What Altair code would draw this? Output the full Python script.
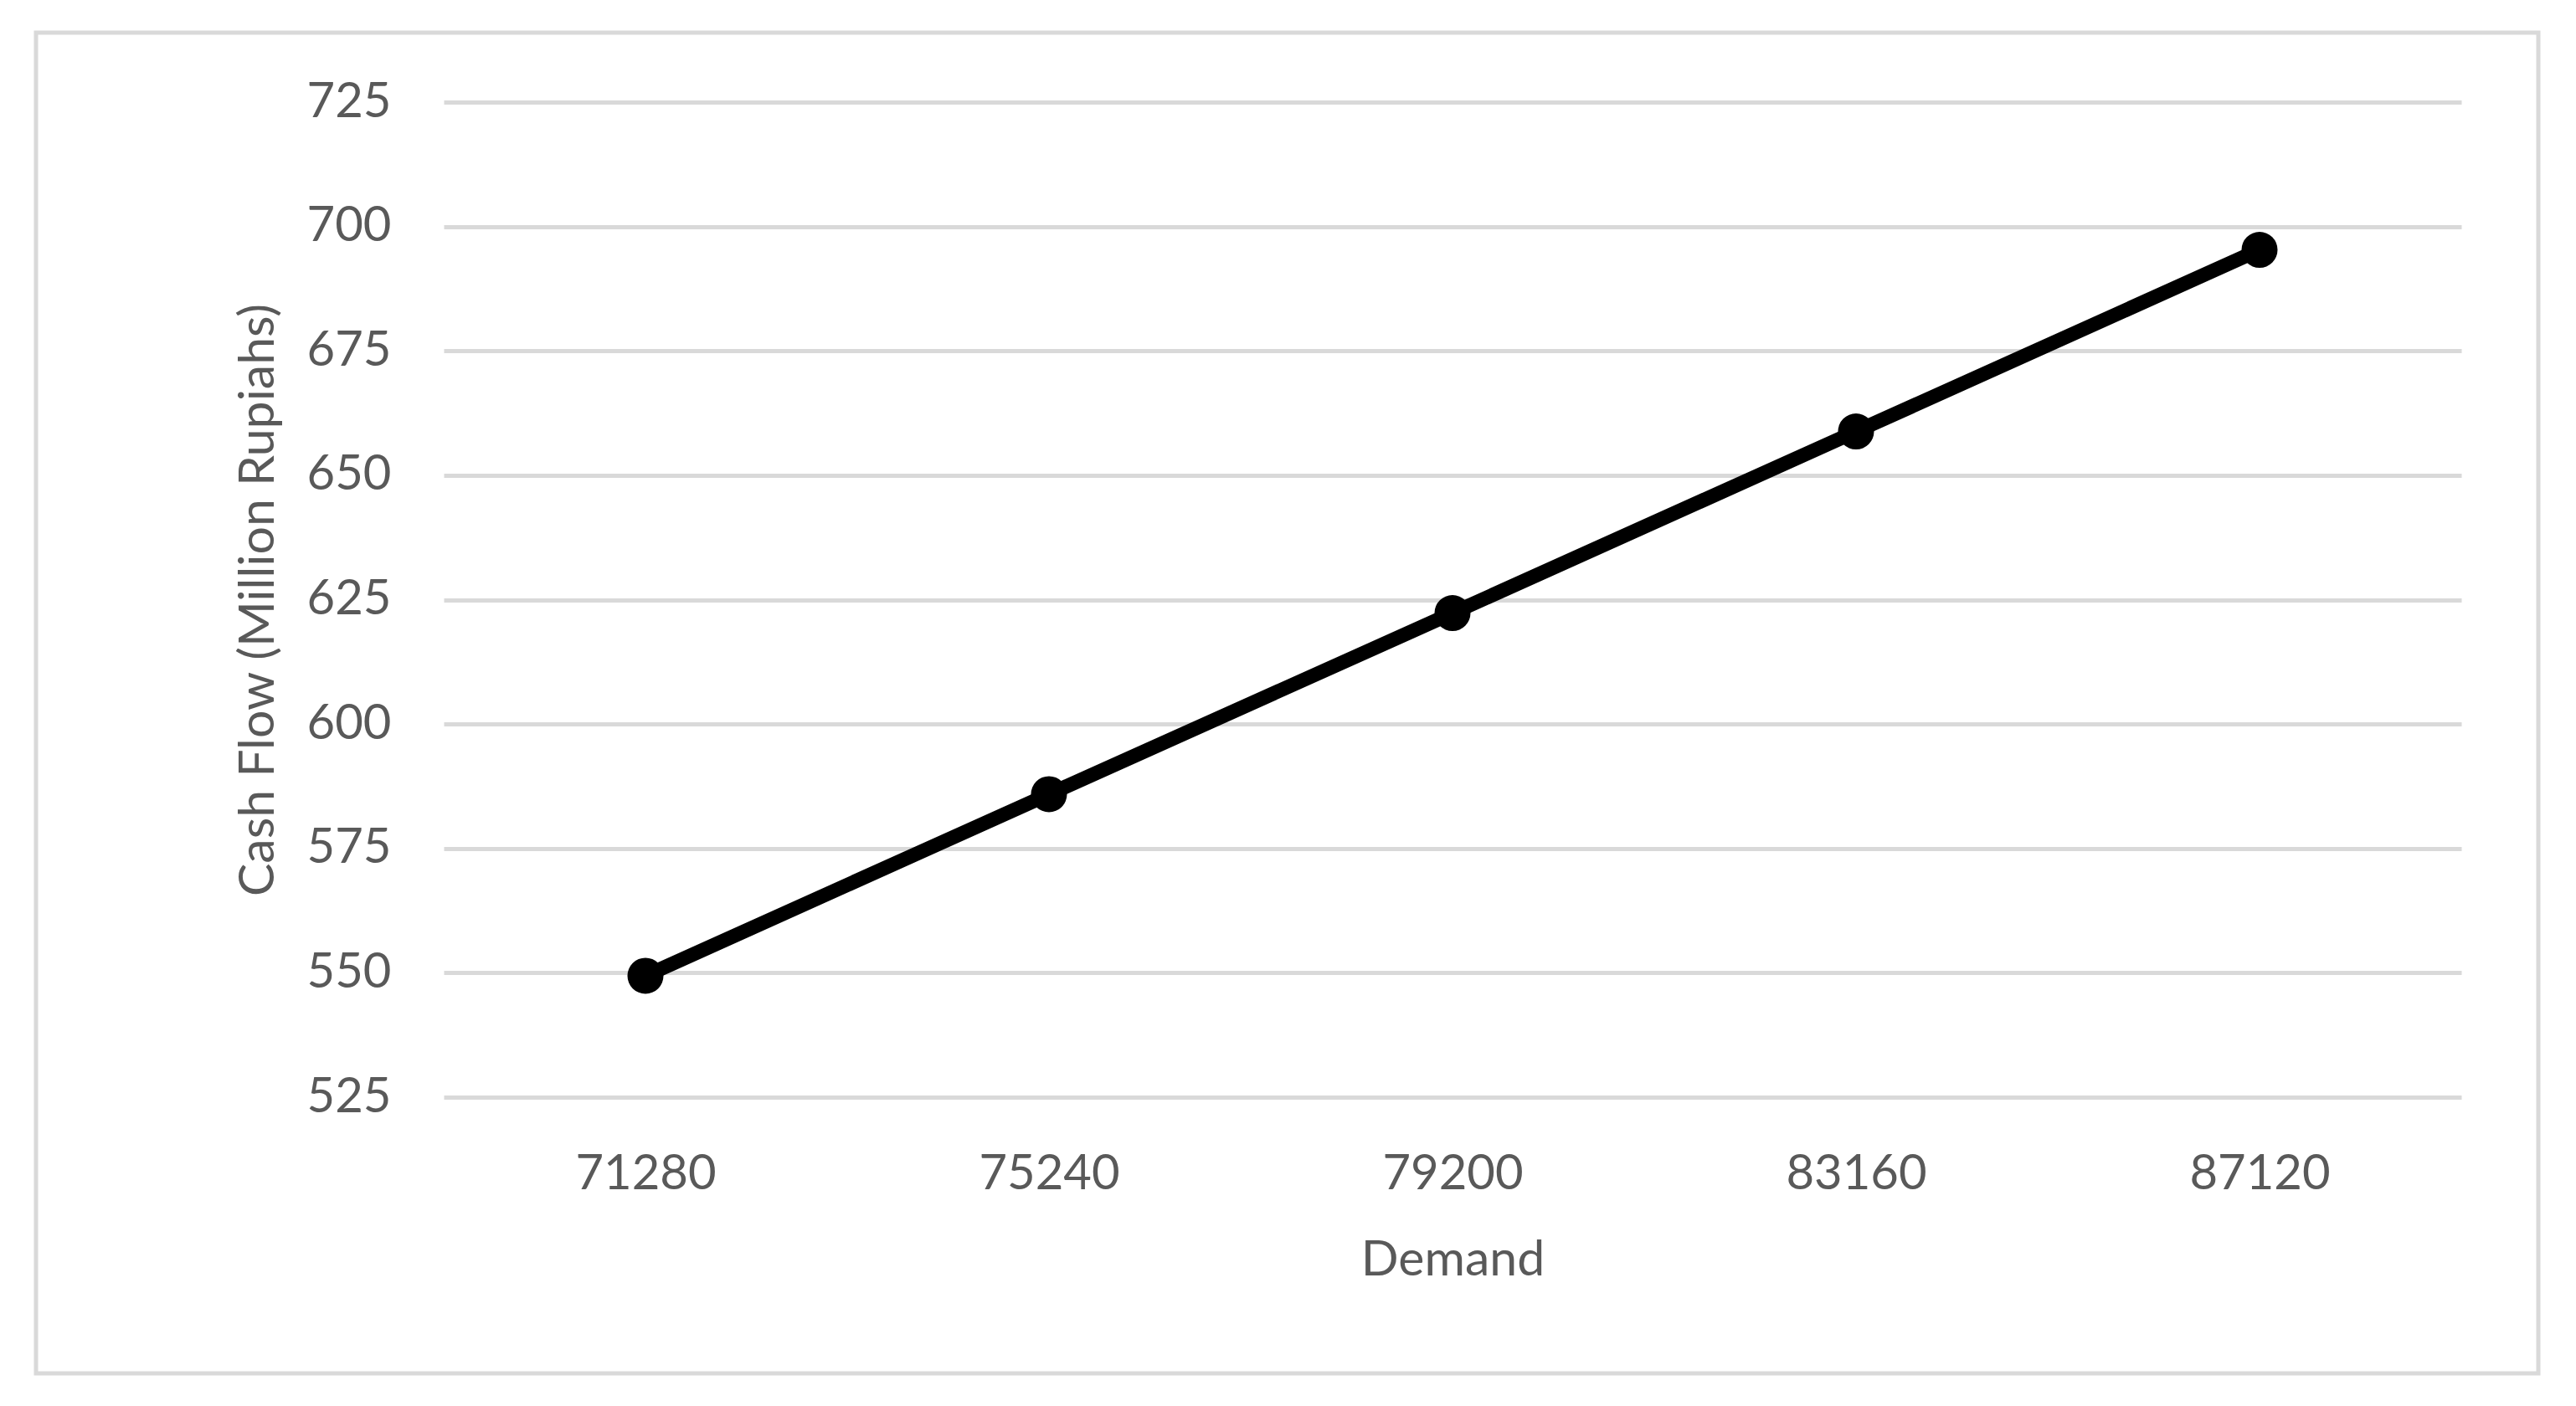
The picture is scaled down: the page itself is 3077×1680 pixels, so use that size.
import altair as alt
import pandas as pd

demand = ["71280", "75240", "79200", "83160", "87120"]
cash_flow = [549.4, 585.9, 622.3, 658.8, 695.3]

df = pd.DataFrame({"Demand": demand, "CashFlow": cash_flow})

FONT = "Lato"
GREY_TXT = "#595959"
GRID = "#D9D9D9"

W, H = 2410, 1189
LBL = 58
TTL = 59

x_enc = alt.X(
    "Demand:N",
    sort=demand,
    scale=alt.Scale(type="point", padding=0.5),
    axis=alt.Axis(
        title="Demand",
        grid=False,
        domain=False,
        ticks=False,
        tickSize=0,
        labelAngle=0,
        labelBaseline="middle",
        labelPadding=92,
        labelFontSize=LBL,
        labelColor=GREY_TXT,
        labelFont=FONT,
        titleFont=FONT,
        titleFontSize=TTL,
        titleFontWeight="normal",
        titleColor=GREY_TXT,
        titleBaseline="middle",
        titleX=W / 2,
        titleY=194,
    ),
)
y_enc = alt.Y(
    "CashFlow:Q",
    scale=alt.Scale(domain=[525, 725], nice=False, zero=False),
    axis=alt.Axis(
        title="Cash Flow (Million Rupiahs)",
        values=[525, 550, 575, 600, 625, 650, 675, 700, 725],
        grid=True,
        gridColor=GRID,
        gridWidth=5,
        domain=False,
        ticks=False,
        tickSize=0,
        labelPadding=63,
        labelFontSize=LBL,
        labelColor=GREY_TXT,
        labelFont=FONT,
        titleFont=FONT,
        titleFontSize=TTL,
        titleFontWeight="normal",
        titleColor=GREY_TXT,
        titleAngle=-90,
        titleBaseline="middle",
        titleAlign="center",
        titleX=-222,
        titleY=H / 2,
    ),
)

base = alt.Chart(df)

line = base.mark_line(color="black", strokeWidth=17).encode(x=x_enc, y=y_enc)
pts = base.mark_circle(color="black", opacity=1, size=1850).encode(x=x_enc, y=y_enc)

frame = alt.Chart(pd.DataFrame({"a": [0]})).mark_rect(
    fill=None, stroke=GRID, strokeWidth=5, clip=False
).encode(
    x=alt.value(-487), x2=alt.value(2502), y=alt.value(-83), y2=alt.value(1519)
)

chart = alt.layer(frame, line, pts).properties(
    width=W,
    height=H,
    autosize=alt.AutoSizeParams(type="none"),
    padding={"left": 522, "top": 114, "right": 120, "bottom": 340},
    background="white",
).configure_view(stroke=None)

chart.save("out.html", embed_options={"renderer": "svg", "actions": False})
